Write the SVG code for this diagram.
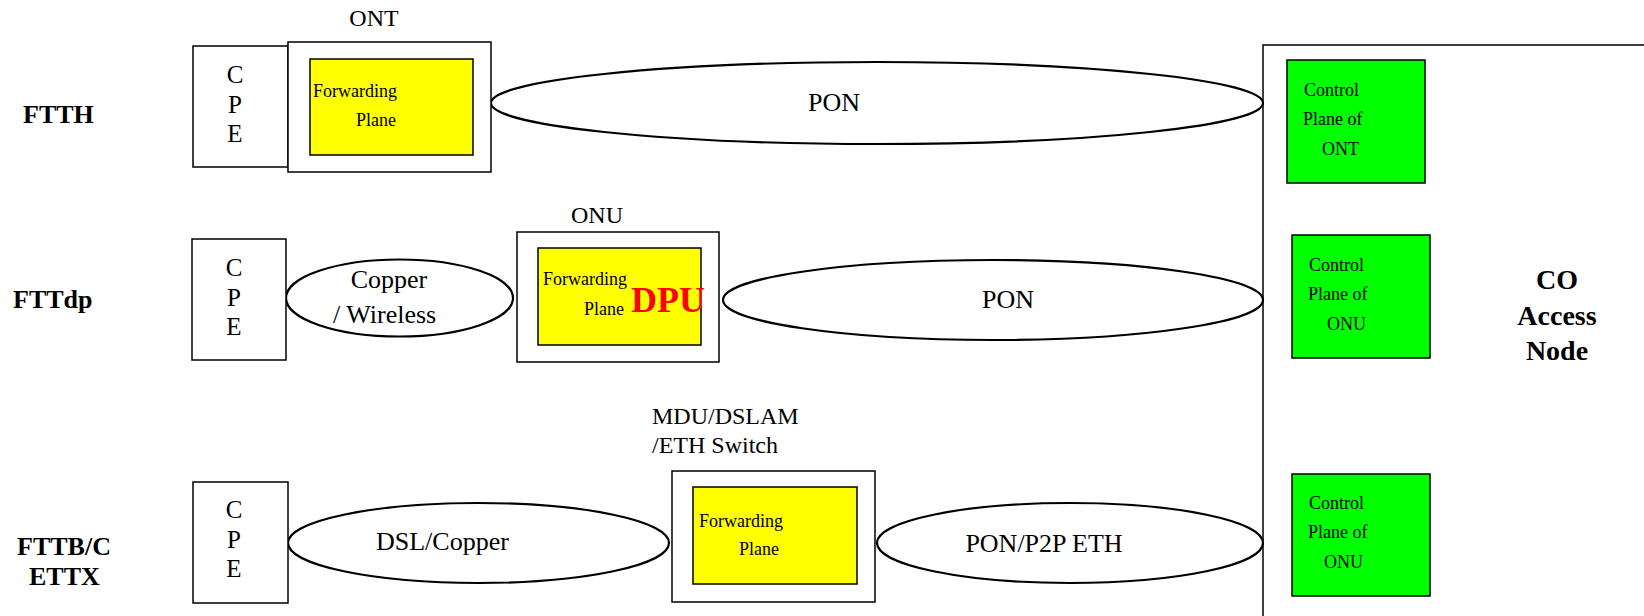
<svg xmlns="http://www.w3.org/2000/svg" width="1644" height="616" viewBox="0 0 1644 616">
<style>
text{font-family:"Liberation Serif","Times New Roman",serif;fill:#000}
.box{fill:#fff;stroke:#000;stroke-width:1.5}
.fwd{fill:#ffff00;stroke:#000;stroke-width:1.5}
.ctl{fill:#00ff00;stroke:#000;stroke-width:1.5}
.link{fill:#fff;stroke:#000;stroke-width:2.2}
.row{font-size:26px;font-weight:bold}
.cpe{font-size:25px;text-anchor:middle}
.dev{font-size:24px}
.lbl{font-size:26px}
.small{font-size:18px}
.co{font-size:28px;font-weight:bold;text-anchor:middle}
</style>
<rect width="1644" height="616" fill="#fff"/>
<g id="row-labels">
<text class="row" x="23" y="123">FTTH</text>
<text class="row" x="13" y="308">FTTdp</text>
<text class="row" x="17" y="555">FTTB/C</text>
<text class="row" x="29" y="585">ETTX</text>
</g>
<g id="co-access-node">
<rect class="box" x="1263" y="45" width="400" height="600"/>
<text class="co" x="1557" y="289">CO</text>
<text class="co" x="1557" y="325">Access</text>
<text class="co" x="1557" y="360">Node</text>
</g>
<g id="connectors">
<ellipse class="link" cx="877" cy="103" rx="386" ry="41"/>
<text class="lbl" x="834" y="111" text-anchor="middle">PON</text>
<ellipse class="link" cx="399.5" cy="298" rx="113.5" ry="38.5"/>
<text class="lbl" x="389" y="288" text-anchor="middle">Copper</text>
<text class="lbl" x="333" y="323">/ Wireless</text>
<ellipse class="link" cx="993" cy="300" rx="270" ry="40"/>
<text class="lbl" x="1008" y="308" text-anchor="middle">PON</text>
<ellipse class="link" cx="478.5" cy="543" rx="190.5" ry="40"/>
<text class="lbl" x="376" y="550">DSL/Copper</text>
<ellipse class="link" cx="1070" cy="543" rx="193" ry="40"/>
<text class="lbl" x="1044" y="552" text-anchor="middle">PON/P2P ETH</text>
</g>
<g id="cpe-ftth">
<rect class="box" x="193" y="46" width="95" height="121"/>
<text class="cpe" x="235" y="83">C</text>
<text class="cpe" x="235" y="113">P</text>
<text class="cpe" x="235" y="142">E</text>
</g>
<g id="ont">
<text class="dev" x="374" y="26" text-anchor="middle">ONT</text>
<rect class="box" x="288" y="42" width="203" height="130"/>
<rect class="fwd" x="310" y="59" width="163" height="96"/>
<text class="small" x="313" y="97">Forwarding</text>
<text class="small" x="356" y="126">Plane</text>
</g>
<g id="cpe-fttdp">
<rect class="box" x="192" y="239" width="94" height="121"/>
<text class="cpe" x="234" y="276">C</text>
<text class="cpe" x="234" y="306">P</text>
<text class="cpe" x="234" y="335">E</text>
</g>
<g id="onu-dpu">
<text class="dev" x="597" y="223" text-anchor="middle">ONU</text>
<rect class="box" x="517" y="232" width="202" height="130"/>
<rect class="fwd" x="538" y="248" width="163" height="97"/>
<text class="small" x="543" y="285">Forwarding</text>
<text class="small" x="584" y="315">Plane</text>
<text x="631" y="312" style="font-size:36px;font-weight:bold;fill:#ff0000">DPU</text>
</g>
<g id="cpe-fttb">
<rect class="box" x="193" y="482" width="95" height="121"/>
<text class="cpe" x="234" y="518">C</text>
<text class="cpe" x="234" y="548">P</text>
<text class="cpe" x="234" y="577">E</text>
</g>
<g id="mdu">
<text class="dev" x="652" y="424">MDU/DSLAM</text>
<text class="dev" x="652" y="453">/ETH Switch</text>
<rect class="box" x="672" y="471" width="203" height="131"/>
<rect class="fwd" x="693" y="487" width="164" height="97"/>
<text class="small" x="699" y="527">Forwarding</text>
<text class="small" x="739" y="555">Plane</text>
</g>
<g id="ctl-ont">
<rect class="ctl" x="1287" y="60" width="138" height="123"/>
<text class="small" x="1304" y="96">Control</text>
<text class="small" x="1303" y="125">Plane of</text>
<text class="small" x="1322" y="155">ONT</text>
</g>
<g id="ctl-onu-1">
<rect class="ctl" x="1292" y="235" width="138" height="123"/>
<text class="small" x="1309" y="271">Control</text>
<text class="small" x="1308" y="300">Plane of</text>
<text class="small" x="1327" y="330">ONU</text>
</g>
<g id="ctl-onu-2">
<rect class="ctl" x="1292" y="474" width="138" height="122"/>
<text class="small" x="1309" y="509">Control</text>
<text class="small" x="1308" y="538">Plane of</text>
<text class="small" x="1324" y="568">ONU</text>
</g>
</svg>
